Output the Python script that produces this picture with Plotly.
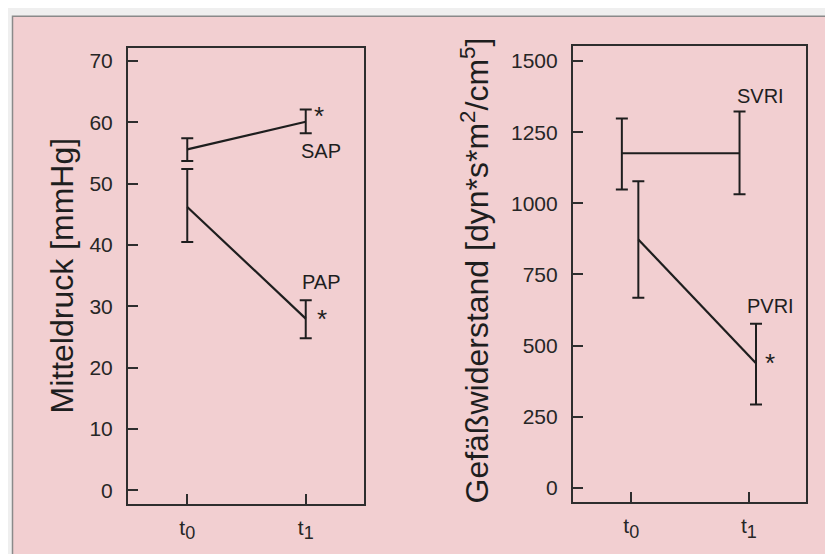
import plotly.graph_objects as go

# ---- data ----
time_pos = [0, 1]
time_labels = ["t<sub><span style='font-size:18px'>0</span></sub>",
               "t<sub><span style='font-size:18px'>1</span></sub>"]

sap_mean = [55.6, 60.1]
sap_upper = [57.4, 62.1]
sap_lower = [53.7, 58.2]

pap_mean = [46.2, 28.0]
pap_upper = [52.4, 31.0]
pap_lower = [40.5, 24.8]

svri_mean = [1176, 1176]
svri_upper = [1298, 1323]
svri_lower = [1049, 1032]

pvri_mean = [873, 438]
pvri_upper = [1078, 577]
pvri_lower = [668, 293]

left_ticks = [0, 10, 20, 30, 40, 50, 60, 70]
right_ticks = [0, 250, 500, 750, 1000, 1250, 1500]

svri_offset = -0.08
pvri_offset = 0.06

INK = "#1e1e1e"
FRAME = "#2e2e2e"
PINK = "#f2cfd1"
FONT = "Liberation Sans, Arial, sans-serif"


def err(mean, upper, lower):
    return dict(type="data", symmetric=False,
                array=[u - m for u, m in zip(upper, mean)],
                arrayminus=[m - l for m, l in zip(mean, lower)],
                color=INK, thickness=2, width=6)


fig = go.Figure()

fig.add_trace(go.Scatter(x=time_pos, y=sap_mean, mode="lines",
                         line=dict(color=INK, width=2.2),
                         error_y=err(sap_mean, sap_upper, sap_lower),
                         xaxis="x", yaxis="y", showlegend=False))
fig.add_trace(go.Scatter(x=time_pos, y=pap_mean, mode="lines",
                         line=dict(color=INK, width=2.2),
                         error_y=err(pap_mean, pap_upper, pap_lower),
                         xaxis="x", yaxis="y", showlegend=False))

fig.add_trace(go.Scatter(x=[p + svri_offset for p in time_pos], y=svri_mean, mode="lines",
                         line=dict(color=INK, width=2.2),
                         error_y=err(svri_mean, svri_upper, svri_lower),
                         xaxis="x2", yaxis="y2", showlegend=False))
fig.add_trace(go.Scatter(x=[p + pvri_offset for p in time_pos], y=pvri_mean, mode="lines",
                         line=dict(color=INK, width=2.2),
                         error_y=err(pvri_mean, pvri_upper, pvri_lower),
                         xaxis="x2", yaxis="y2", showlegend=False))

axis_common = dict(showline=True, mirror=True, linecolor=FRAME, linewidth=2.2,
                   showgrid=False, zeroline=False, ticks="inside",
                   tickwidth=2, tickcolor=FRAME,
                   tickfont=dict(family=FONT, size=21, color="#262626"))

fig.update_layout(
    width=833, height=554,
    margin=dict(l=0, r=0, t=0, b=0),
    paper_bgcolor="#efefef",
    plot_bgcolor="rgba(0,0,0,0)",
    xaxis=dict(domain=[0.1441, 0.4274], range=[-0.5, 1.492],
               tickvals=time_pos, ticktext=time_labels, ticklen=10,
               anchor="y", ticklabelstandoff=4, **axis_common),
    yaxis=dict(domain=[0.1052, 0.9285], range=[-2.18, 72.18],
               tickvals=left_ticks, ticklen=10, anchor="x",
               ticklabelstandoff=9, **axis_common),
    xaxis2=dict(domain=[0.6783, 0.9580], range=[-0.495, 1.485],
                tickvals=time_pos, ticktext=time_labels, ticklen=10,
                anchor="y2", ticklabelstandoff=4, **axis_common),
    yaxis2=dict(domain=[0.1083, 0.931], range=[-49.5, 1552],
                tickvals=right_ticks, ticklen=10, anchor="x2",
                ticklabelstandoff=9, **axis_common),
    shapes=[dict(type="rect", xref="paper", yref="paper",
                 x0=4.5 / 833, x1=1.01, y0=1 - 550 / 554, y1=1 - 8.3 / 554,
                 fillcolor=PINK, line=dict(color="#8a8a8a", width=1.5),
                 layer="below")],
)

txt = dict(family=FONT, size=20, color=INK)
star = dict(family=FONT, size=26, color=INK)
annots = [
    dict(x=1.13, y=55.3, xref="x", yref="y", text="SAP", showarrow=False, font=txt),
    dict(x=1.11, y=61.0, xref="x", yref="y", text="*", showarrow=False, font=star),
    dict(x=1.13, y=34.0, xref="x", yref="y", text="PAP", showarrow=False, font=txt),
    dict(x=1.14, y=28.0, xref="x", yref="y", text="*", showarrow=False, font=star),
    dict(x=1.10, y=1376, xref="x2", yref="y2", text="SVRI", showarrow=False, font=txt),
    dict(x=1.18, y=639, xref="x2", yref="y2", text="PVRI", showarrow=False, font=txt),
    dict(x=1.18, y=440, xref="x2", yref="y2", text="*", showarrow=False, font=star),
    dict(x=53 / 833, y=1 - 267.5 / 554, xref="paper", yref="paper", text="Mitteldruck [mmHg]",
         xanchor="center", yanchor="middle",
         textangle=-90, showarrow=False, font=dict(family=FONT, size=32, color=INK)),
    dict(x=466 / 833, y=1 - 262.5 / 554, xref="paper", yref="paper",
         xanchor="center", yanchor="middle",
         text="Gefäßwiderstand [dyn*s*m<sup>2</sup>/cm<sup>5</sup>]",
         textangle=-90, showarrow=False, font=dict(family=FONT, size=32, color=INK)),
]
fig.update_layout(annotations=annots)

fig.write_html("out.html")
